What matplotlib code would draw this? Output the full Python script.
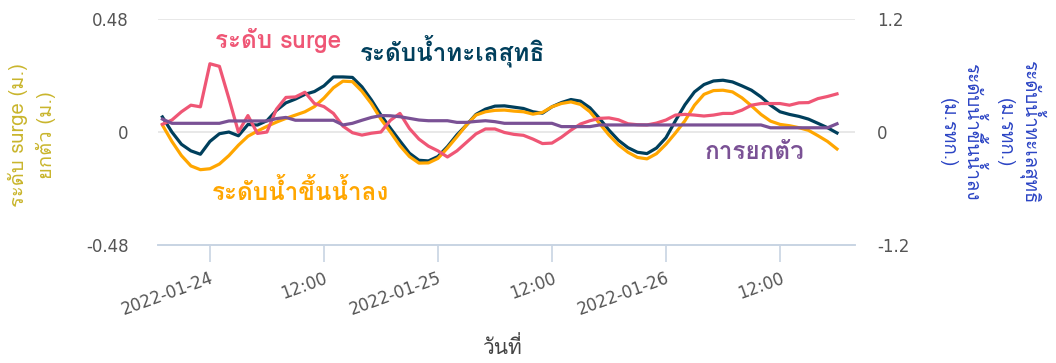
import pandas as pd
import matplotlib
matplotlib.use('Agg')
import matplotlib.pyplot as plt
from matplotlib import font_manager
from matplotlib.ft2font import FT2Font


def find_thai_font():
    # first installed family that actually has Thai glyphs
    for entry in font_manager.fontManager.ttflist:
        try:
            if 0x0E23 in FT2Font(entry.fname).get_charmap():
                return entry.name
        except Exception:
            continue
    return None


thai = find_thai_font()
families = [thai, 'DejaVu Sans'] if thai else ['DejaVu Sans']
plt.rcParams['font.family'] = families

# hourly series, 2022-01-23 19:00 onwards
surge = [0.033, 0.051, 0.086, 0.114, 0.107, 0.29, 0.279, 0.142, 0.0, 0.07,
         -0.006, 0.0, 0.097, 0.147, 0.149, 0.169, 0.121, 0.108, 0.079,
         0.025, -0.003, -0.013, -0.005, 0.0, 0.05, 0.079, 0.015, -0.03,
         -0.06, -0.08, -0.106, -0.08, -0.044, -0.008, 0.013, 0.013, -0.002,
         -0.01, -0.014, -0.03, -0.049, -0.047, -0.022, 0.008, 0.034, 0.048,
         0.058, 0.06, 0.052, 0.035, 0.031, 0.03, 0.038, 0.051, 0.072,
         0.075, 0.072, 0.068, 0.072, 0.079, 0.079, 0.093, 0.114, 0.121,
         0.121, 0.121, 0.114, 0.124, 0.125, 0.142, 0.151, 0.162]

uplift = [0.055, 0.037, 0.037, 0.037, 0.037, 0.037, 0.037, 0.047, 0.047,
          0.047, 0.047, 0.047, 0.057, 0.062, 0.05, 0.05, 0.05, 0.05, 0.05,
          0.03, 0.037, 0.05, 0.062, 0.07, 0.069, 0.065, 0.058, 0.051,
          0.048, 0.048, 0.048, 0.041, 0.041, 0.045, 0.048, 0.044, 0.037,
          0.037, 0.037, 0.037, 0.037, 0.037, 0.023, 0.023, 0.023, 0.023,
          0.03, 0.03, 0.03, 0.03, 0.03, 0.03, 0.03, 0.03, 0.03,
          0.03, 0.03, 0.03, 0.03, 0.03, 0.03, 0.03, 0.03, 0.03,
          0.018, 0.018, 0.018, 0.018, 0.018, 0.018, 0.018, 0.035]

sea_level = [0.16, 0.0, -0.13, -0.2, -0.236, -0.1, -0.018, 0.0, -0.04, 0.08,
             0.074, 0.12, 0.23, 0.31, 0.35, 0.4, 0.43, 0.49, 0.585,
             0.585, 0.58, 0.48, 0.34, 0.18, 0.04, -0.095, -0.225, -0.3,
             -0.307, -0.26, -0.155, -0.03, 0.074, 0.187, 0.243, 0.275, 0.278,
             0.264, 0.25, 0.215, 0.2, 0.268, 0.313, 0.345, 0.328, 0.257,
             0.145, 0.02, -0.088, -0.166, -0.215, -0.229, -0.17, -0.06, 0.12,
             0.29, 0.426, 0.504, 0.542, 0.55, 0.532, 0.49, 0.444, 0.373,
             0.285, 0.215, 0.187, 0.166, 0.137, 0.092, 0.046, -0.01]

tide = [0.074, -0.1, -0.25, -0.36, -0.4, -0.39, -0.34, -0.25, -0.14, -0.045,
        0.01, 0.06, 0.105, 0.145, 0.18, 0.215, 0.27, 0.36, 0.47,
        0.54, 0.535, 0.433, 0.3, 0.137, 0.0, -0.145, -0.26, -0.33,
        -0.328, -0.28, -0.17, -0.05, 0.074, 0.18, 0.215, 0.23, 0.233,
        0.222, 0.215, 0.19, 0.208, 0.268, 0.303, 0.32, 0.293, 0.215,
        0.092, -0.032, -0.137, -0.215, -0.27, -0.285, -0.23, -0.13, -0.01,
        0.12, 0.285, 0.4, 0.44, 0.444, 0.426, 0.363, 0.278, 0.187,
        0.116, 0.081, 0.067, 0.046, 0.018, -0.039, -0.1, -0.18]

times = pd.date_range('2022-01-23 19:00', periods=len(surge), freq='h')

x_ticks = pd.to_datetime(['2022-01-24 00:00', '2022-01-24 12:00',
                          '2022-01-25 00:00', '2022-01-25 12:00',
                          '2022-01-26 00:00', '2022-01-26 12:00'])
x_labels = ['2022-01-24', '12:00', '2022-01-25', '12:00', '2022-01-26', '12:00']
left_ticks = [-0.48, 0, 0.48]
left_labels = ['-0.48', '0', '0.48']
right_ticks = [-1.2, 0, 1.2]
right_labels = ['-1.2', '0', '1.2']

c_surge = '#ef5675'
c_uplift = '#7a5195'
c_sea = '#003f5c'
c_tide = '#ffa600'
c_axis = '#c8d4e3'
c_tick = '#555555'
num_font = 'DejaVu Sans'

fig = plt.figure(figsize=(10.56, 3.63), dpi=100)
ax = fig.add_axes([0.1496, 0.325, 0.6601, 0.6226])
ax2 = ax.twinx()
# left-axis traces sit on top of the right-axis ones
ax.set_zorder(ax2.get_zorder() + 1)
ax.patch.set_visible(False)

ax2.plot(times, sea_level, color=c_sea, lw=2.3, solid_joinstyle='round')
ax2.plot(times, tide, color=c_tide, lw=2.3, solid_joinstyle='round')
ax.plot(times, surge, color=c_surge, lw=2.3, solid_joinstyle='round')
ax.plot(times, uplift, color=c_uplift, lw=2.3, solid_joinstyle='round')

ax.set_ylim(-0.48, 0.48)
ax2.set_ylim(-1.2, 1.2)
ax.set_xlim(pd.Timestamp('2022-01-23 18:32'), pd.Timestamp('2022-01-26 19:54'))

# grid lines on the lower axes so they stay under every trace
for y in right_ticks[1:]:
    ax2.axhline(y, color='#e6e6e6', lw=1.3, zorder=0)

for a in (ax, ax2):
    for side in ('top', 'left', 'right'):
        a.spines[side].set_visible(False)
    a.spines['bottom'].set_color(c_axis)
    a.spines['bottom'].set_linewidth(1.2)

ax.set_yticks(left_ticks, left_labels, fontfamily=num_font)
ax.tick_params(axis='y', length=0, pad=21, labelsize=12, labelcolor=c_tick)
ax2.set_yticks(right_ticks, right_labels, fontfamily=num_font)
ax2.tick_params(axis='y', length=0, pad=16, labelsize=12, labelcolor=c_tick)

ax.set_xticks(x_ticks, x_labels)
ax.tick_params(axis='x', length=12.5, width=1.2, color=c_axis, pad=5,
               labelsize=12, labelcolor=c_tick, labelrotation=20,
               labelfontfamily=num_font)
plt.setp(ax.get_xticklabels(), ha='right', va='top', rotation_mode='anchor')

# trace names written beside the lines
ax.text(pd.Timestamp('2022-01-24 07:10'), 0.389, 'ระดับ surge', color=c_surge,
        fontsize=17.5, fontweight='bold', ha='center', va='center')
ax.text(pd.Timestamp('2022-01-25 01:30'), 0.347, 'ระดับน้ำทะเลสุทธิ', color=c_sea,
        fontsize=17.5, fontweight='bold', ha='center', va='center')
ax.text(pd.Timestamp('2022-01-24 09:30'), -0.254, 'ระดับน้ำขึ้นน้ำลง', color=c_tide,
        fontsize=17.5, fontweight='bold', ha='center', va='center')
ax.text(pd.Timestamp('2022-01-26 09:20'), -0.089, 'การยกตัว', color=c_uplift,
        fontsize=17.5, fontweight='bold', ha='center', va='center')

# axis titles
fig.text(0.0303, 0.628, 'ระดับ surge (ม.)\nยกตัว (ม.)', color='#c9b52c',
         fontsize=14.5, rotation=90, ha='center', va='center', linespacing=1.45)
fig.text(0.967, 0.636, 'ระดับน้ำทะเลสุทธิ\n(ม.รทก.)', color='#2b44c4',
         fontsize=13.5, rotation=270, ha='center', va='center', linespacing=1.35)
fig.text(0.910, 0.636, 'ระดับน้ำขึ้นน้ำลง\n(ม.รทก.)', color='#2b44c4',
         fontsize=13.5, rotation=270, ha='center', va='center', linespacing=1.35)
fig.text(0.475, 0.044, 'วันที่', color='#444444', fontsize=15,
         ha='center', va='center')

fig.savefig('out.png', dpi=100)
